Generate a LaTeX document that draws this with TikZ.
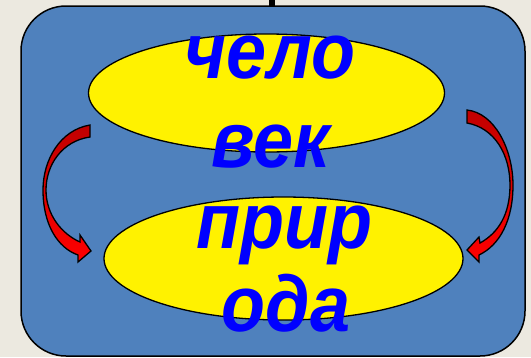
\documentclass[tikz,border=0pt]{standalone}
\usepackage{fontspec}
\setmainfont{Liberation Sans}
\usetikzlibrary{shapes.geometric}
\definecolor{bgbeige}{RGB}{236,233,224}
\definecolor{panelblue}{RGB}{79,129,189}
\definecolor{darkred}{RGB}{192,0,0}
\newcommand{\tallword}[1]{\scalebox{1}[1.1]{#1}}
\tikzset{
  panel/.style={draw=black, line width=1.5pt, fill=panelblue, rounded corners=45pt},
  oval/.style={ellipse, draw=black, line width=1.3pt, fill=yellow, inner sep=0pt},
  word/.style={anchor=base, text=blue, font=\fontsize{72}{72}\selectfont\bfseries\itshape, inner sep=0pt},
  bentarrow/.style={draw=black, line width=1.3pt, line join=miter, top color=darkred, bottom color=red, middle color=darkred!50!red}
}
\begin{document}
\begin{tikzpicture}[x=1pt,y=-1pt]
\useasboundingbox (0,0) rectangle (531,357);
\fill[bgbeige] (0,0) rectangle (531,357);
\fill[black] (269,0) rectangle (275,7);
\draw[panel] (21,6) rectangle (525,356);
\node[oval, minimum width=356pt, minimum height=118pt] (man) at (266.5,93) {};
\node[oval, minimum width=359pt, minimum height=123pt] (nature) at (283.5,258.5) {};
% left curved arrow
\path[bentarrow] (90,125) .. controls (60,130) and (43,160) .. (43,190)
  .. controls (43,225) and (58,248) .. (78,255) -- (78,262) -- (91,251) -- (80,235) -- (80,242)
  .. controls (62,234) and (46,215) .. (46,190)
  .. controls (46,165) and (62,141) .. (90,137) -- cycle;
% right curved arrow
\path[bentarrow] (467,110) .. controls (495,113) and (513,150) .. (513,185)
  .. controls (513,220) and (500,245) .. (479,255) -- (479,262) -- (467,250) -- (479,237) -- (480,243)
  .. controls (498,233) and (510,215) .. (510,185)
  .. controls (510,155) and (495,128) .. (467,123) -- cycle;
\node[word] (w1) at (270,78) {\tallword{чело}};
\node[word] (w2) at (271,167) {\tallword{век}};
\node[word] (w3) at (284,248) {\tallword{прир}};
\node[word] (w4) at (286,331) {\tallword{ода}};
\end{tikzpicture}
\end{document}
